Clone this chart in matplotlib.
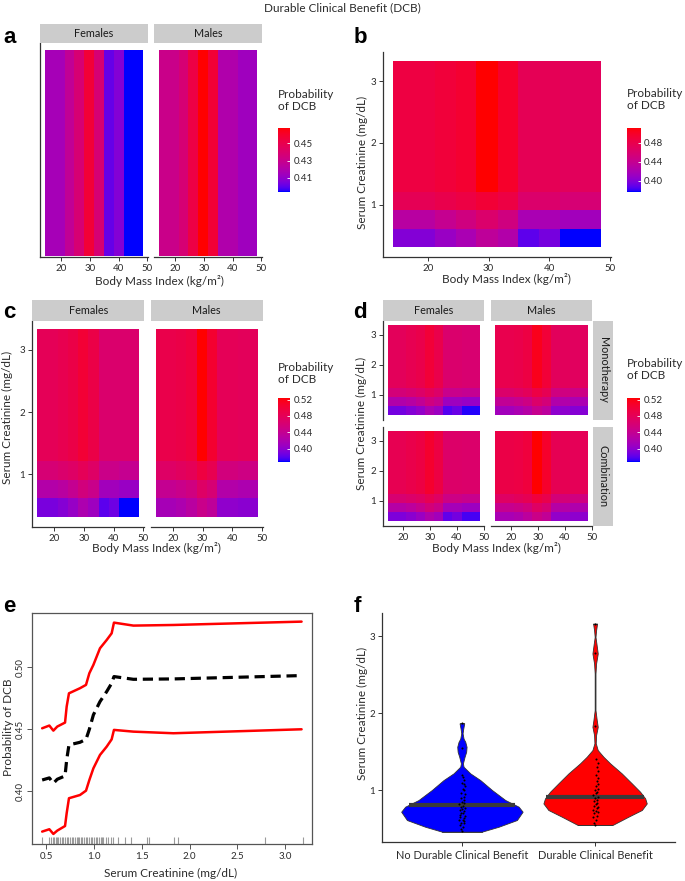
import numpy as np
import matplotlib
matplotlib.use("Agg")
import matplotlib.pyplot as plt
from matplotlib.colors import ListedColormap, Normalize
from matplotlib.cm import ScalarMappable
from matplotlib.ticker import FormatStrFormatter

plt.rcParams['font.family'] = ['Lato', 'DejaVu Sans']

W, H = 685, 881

# ---------------- data ----------------
bmi_edges = [14.3, 17.7, 21.2, 24.6, 28.0, 31.5, 34.9, 38.3, 41.8, 45.2, 48.6]
creat_edges = [0.31, 0.61, 0.91, 1.21, 1.52, 1.82, 2.12, 2.42, 2.72, 3.03, 3.33]
bmi_ticks = [20, 30, 40, 50]
creat_ticks = [1, 2, 3]

# panel a: probability by BMI tile (10 tiles)
a_females = [0.416, 0.416, 0.427, 0.438, 0.457, 0.438, 0.401, 0.407, 0.394, 0.394]
a_males = [0.431, 0.431, 0.438, 0.453, 0.468, 0.457, 0.420, 0.420, 0.414, 0.414]

# panels b-d: distinct creatinine rows (0.31-0.61, 0.61-0.91, 0.91-1.21, >1.21)
b_rows = [[0.400, 0.400, 0.410, 0.420, 0.435, 0.425, 0.388, 0.395, 0.377, 0.377],
          [0.430, 0.430, 0.440, 0.450, 0.462, 0.450, 0.420, 0.420, 0.415, 0.415],
          [0.475, 0.475, 0.480, 0.485, 0.492, 0.485, 0.462, 0.462, 0.457, 0.457],
          [0.486, 0.486, 0.490, 0.495, 0.512, 0.498, 0.475, 0.475, 0.471, 0.471]]
c_females = [[0.390, 0.390, 0.396, 0.405, 0.420, 0.410, 0.380, 0.386, 0.368, 0.368],
             [0.425, 0.425, 0.430, 0.440, 0.455, 0.445, 0.412, 0.412, 0.406, 0.406],
             [0.460, 0.460, 0.465, 0.470, 0.480, 0.470, 0.446, 0.446, 0.441, 0.441],
             [0.480, 0.480, 0.485, 0.490, 0.502, 0.490, 0.466, 0.466, 0.465, 0.465]]
c_males = [[0.415, 0.415, 0.420, 0.430, 0.445, 0.435, 0.401, 0.401, 0.398, 0.398],
           [0.440, 0.440, 0.445, 0.452, 0.470, 0.460, 0.425, 0.425, 0.420, 0.420],
           [0.470, 0.470, 0.475, 0.480, 0.495, 0.485, 0.455, 0.455, 0.450, 0.450],
           [0.488, 0.488, 0.490, 0.495, 0.524, 0.505, 0.480, 0.480, 0.478, 0.478]]
d_mono_females = [[0.388, 0.388, 0.395, 0.403, 0.418, 0.408, 0.378, 0.384, 0.370, 0.370],
                  [0.423, 0.423, 0.428, 0.438, 0.452, 0.442, 0.410, 0.410, 0.405, 0.405],
                  [0.457, 0.457, 0.462, 0.468, 0.478, 0.468, 0.444, 0.444, 0.440, 0.440],
                  [0.478, 0.478, 0.483, 0.488, 0.500, 0.488, 0.465, 0.465, 0.463, 0.463]]
d_mono_males = [[0.412, 0.412, 0.418, 0.427, 0.442, 0.432, 0.400, 0.400, 0.396, 0.396],
                [0.437, 0.437, 0.442, 0.450, 0.467, 0.457, 0.423, 0.423, 0.418, 0.418],
                [0.467, 0.467, 0.472, 0.478, 0.492, 0.482, 0.452, 0.452, 0.448, 0.448],
                [0.486, 0.486, 0.488, 0.493, 0.515, 0.500, 0.477, 0.477, 0.475, 0.475]]
d_comb_females = [[0.392, 0.392, 0.398, 0.407, 0.422, 0.412, 0.382, 0.388, 0.375, 0.375],
                  [0.427, 0.427, 0.432, 0.442, 0.457, 0.447, 0.414, 0.414, 0.408, 0.408],
                  [0.462, 0.462, 0.467, 0.472, 0.483, 0.472, 0.448, 0.448, 0.443, 0.443],
                  [0.483, 0.483, 0.488, 0.493, 0.506, 0.493, 0.468, 0.468, 0.467, 0.467]]
d_comb_males = [[0.417, 0.417, 0.422, 0.432, 0.447, 0.437, 0.403, 0.403, 0.400, 0.400],
                [0.442, 0.442, 0.447, 0.455, 0.472, 0.462, 0.427, 0.427, 0.422, 0.422],
                [0.472, 0.472, 0.477, 0.482, 0.497, 0.487, 0.457, 0.457, 0.452, 0.452],
                [0.490, 0.490, 0.492, 0.497, 0.524, 0.507, 0.482, 0.482, 0.480, 0.480]]

# panel e: partial dependence on creatinine
e_creat = [0.46, 0.535, 0.577, 0.618, 0.699, 0.716, 0.74, 0.855, 0.918, 0.953, 0.995,
           1.064, 1.134, 1.186, 1.21, 1.413, 1.831, 3.17]
e_fit = [0.4091, 0.4108, 0.4065, 0.4097, 0.4124, 0.4253, 0.4374, 0.4395, 0.4419, 0.4500,
         0.4616, 0.4723, 0.4804, 0.4871, 0.4925, 0.4903, 0.4906, 0.4933]
e_upper = [0.4508, 0.4530, 0.4489, 0.4522, 0.4554, 0.4683, 0.4790, 0.4831, 0.4858, 0.4952,
           0.5019, 0.5153, 0.5220, 0.5274, 0.5360, 0.5336, 0.5341, 0.5368]
e_lower = [0.3675, 0.3694, 0.3656, 0.3683, 0.3720, 0.3823, 0.3944, 0.3970, 0.4005, 0.4091,
           0.4185, 0.4293, 0.4360, 0.4419, 0.4495, 0.4481, 0.4468, 0.4500]
e_rug = [0.46, 0.53, 0.55, 0.57, 0.58, 0.60, 0.62, 0.63, 0.65, 0.67, 0.68, 0.70, 0.72, 0.73,
         0.75, 0.77, 0.78, 0.80, 0.82, 0.83, 0.85, 0.87, 0.88, 0.90, 0.92, 0.93, 0.95, 0.97,
         0.98, 1.00, 1.02, 1.03, 1.05, 1.07, 1.08, 1.10, 1.13, 1.15, 1.18, 1.20, 1.255, 1.325,
         1.388, 1.552, 1.576, 1.837, 1.882, 2.79, 3.18]
e_xticks = [0.5, 1.0, 1.5, 2.0, 2.5, 3.0]
e_yticks = [0.40, 0.45, 0.50]

# panel f: violins (density profile: creatinine level, half-width)
f_groups = ["No Durable Clinical Benefit", "Durable Clinical Benefit"]
ndcb_y = [0.464, 0.528, 0.615, 0.723, 0.788, 0.874, 1.004, 1.133, 1.22, 1.306, 1.35, 1.435,
          1.50, 1.565, 1.63, 1.67, 1.74, 1.80, 1.868]
ndcb_hw = [0.15, 0.276, 0.413, 0.456, 0.426, 0.326, 0.226, 0.138, 0.063, 0.0125, 0.0075, 0.02,
           0.032, 0.035, 0.025, 0.0125, 0.005, 0.01, 0.0175]
dcb_y = [0.55, 0.658, 0.745, 0.83, 0.896, 0.982, 1.09, 1.22, 1.35, 1.435, 1.522, 1.61, 1.716,
         1.824, 1.91, 2.04, 2.3, 2.516, 2.645, 2.775, 2.904, 2.99, 3.076, 3.163]
dcb_hw = [0.13, 0.25, 0.351, 0.388, 0.376, 0.338, 0.276, 0.2, 0.113, 0.063, 0.02, 0.005, 0.0075,
          0.02, 0.0125, 0.003, 0.003, 0.003, 0.0075, 0.02, 0.01, 0.003, 0.0075, 0.015]
ndcb_median = 0.81
dcb_median = 0.91
ndcb_pts = [0.47, 0.50, 0.53, 0.55, 0.57, 0.58, 0.60, 0.61, 0.62, 0.64, 0.65, 0.67, 0.68, 0.70,
            0.71, 0.73, 0.74, 0.76, 0.77, 0.79, 0.80, 0.82, 0.83, 0.85, 0.87, 0.90, 0.92, 0.95,
            0.97, 1.00, 1.02, 1.05, 1.08, 1.10, 1.14, 1.17, 1.20, 1.55, 1.87]
ndcb_jit = [0.00, -0.01, 0.01, -0.015, 0.012, -0.005, 0.018, -0.02, 0.005, 0.015, -0.012, 0.02,
            -0.018, 0.008, -0.008, 0.016, -0.016, 0.004, 0.02, -0.01, 0.01, -0.02, 0.014, 0.0,
            0.018, -0.006, 0.012, 0.02, -0.004, 0.016, 0.008, 0.02, 0.012, 0.004, 0.016, 0.008,
            0.0, 0.0, 0.0]
dcb_pts = [0.55, 0.58, 0.62, 0.65, 0.67, 0.70, 0.72, 0.73, 0.75, 0.77, 0.78, 0.80, 0.82, 0.84,
           0.86, 0.88, 0.90, 0.92, 0.94, 0.96, 0.98, 1.00, 1.02, 1.05, 1.08, 1.12, 1.16, 1.20,
           1.25, 1.30, 1.35, 1.40, 1.83, 2.78, 3.16]
dcb_jit = [0.0, -0.008, 0.01, -0.012, 0.015, -0.005, 0.02, 0.008, -0.015, 0.012, 0.02, -0.01,
           0.005, 0.018, -0.006, 0.012, 0.0, 0.02, -0.012, 0.01, 0.016, -0.004, 0.022, 0.006,
           0.02, 0.012, 0.024, 0.008, 0.02, 0.015, 0.025, 0.01, 0.0, 0.0, 0.0]


# ---------------- colour scale (Lab interpolation blue -> red) ----------------
def srgb_to_lab(c):
    c = np.asarray(c, float)
    lin = np.where(c <= 0.04045, c / 12.92, ((c + 0.055) / 1.055) ** 2.4)
    M = np.array([[0.4124, 0.3576, 0.1805], [0.2126, 0.7152, 0.0722], [0.0193, 0.1192, 0.9505]])
    xyz = M @ lin / np.array([0.95047, 1.0, 1.08883])
    d = 6 / 29
    f = np.where(xyz > d ** 3, np.cbrt(xyz), xyz / (3 * d * d) + 4 / 29)
    return np.array([116 * f[1] - 16, 500 * (f[0] - f[1]), 200 * (f[1] - f[2])])


def lab_to_srgb(lab):
    L, a, b = lab
    fy_ = (L + 16) / 116
    fx_ = fy_ + a / 500
    fz_ = fy_ - b / 200
    d = 6 / 29
    f = np.array([fx_, fy_, fz_])
    xyz = np.where(f > d, f ** 3, 3 * d * d * (f - 4 / 29)) * np.array([0.95047, 1.0, 1.08883])
    Minv = np.linalg.inv(np.array([[0.4124, 0.3576, 0.1805], [0.2126, 0.7152, 0.0722],
                                   [0.0193, 0.1192, 0.9505]]))
    lin = np.clip(Minv @ xyz, 0, 1)
    rgb = np.where(lin <= 0.0031308, 12.92 * lin, 1.055 * lin ** (1 / 2.4) - 0.055)
    return np.clip(rgb, 0, 1)


lab_lo = srgb_to_lab([0, 0, 1])
lab_hi = srgb_to_lab([1, 0, 0])
cmap = ListedColormap([lab_to_srgb(lab_lo + (lab_hi - lab_lo) * t) for t in np.linspace(0, 1, 256)])

fig = plt.figure(figsize=(W / 100, H / 100), dpi=100)

AX_COL = "#333333"
TXT_COL = "#2b2b2b"
LAB_FS = 8.5
TICK_FS = 7.0


def px_axes(x0, y0, x1, y1):
    return fig.add_axes([x0 / W, 1 - y1 / H, (x1 - x0) / W, (y1 - y0) / H])


def fx(x):
    return x / W


def fy(y):
    return 1 - y / H


def classic(ax, left=True, bottom=True):
    for s in ["top", "right"]:
        ax.spines[s].set_visible(False)
    ax.spines["left"].set_visible(left)
    ax.spines["bottom"].set_visible(bottom)
    for s in ["left", "bottom"]:
        ax.spines[s].set_color(AX_COL)
        ax.spines[s].set_linewidth(0.9)
    ax.tick_params(colors=AX_COL, labelcolor=TXT_COL, labelsize=TICK_FS, length=3, width=0.7, pad=2)
    if not left:
        ax.tick_params(axis="y", left=False, labelleft=False)
    if not bottom:
        ax.tick_params(axis="x", bottom=False, labelbottom=False)


def strip(x0, y0, x1, y1, text, rotation=0):
    ax = px_axes(x0, y0, x1, y1)
    ax.set_facecolor("#CCCCCC")
    ax.set_xticks([])
    ax.set_yticks([])
    for s in ax.spines.values():
        s.set_visible(False)
    ax.text(0.5, 0.5, text, ha="center", va="center", rotation=rotation,
            fontsize=7.8, color="#1a1a1a", transform=ax.transAxes)


def expand_rows(rows):
    return np.array(rows[:3] + [rows[3]] * 7)


def heat(ax, rows, norm):
    ax.pcolormesh(bmi_edges, creat_edges, expand_rows(rows), cmap=cmap, norm=norm,
                  shading="flat", edgecolors="face", linewidth=0)
    ax.set_xlim(12.6, 50.2)
    ax.set_ylim(0.15, 3.47)
    ax.set_xticks(bmi_ticks)
    ax.set_yticks(creat_ticks)


def cbar(x0, y0, x1, y1, norm, ticks, title_top):
    cax = px_axes(x0, y0, x1, y1)
    cb = fig.colorbar(ScalarMappable(norm=norm, cmap=cmap), cax=cax, ticks=ticks)
    cb.outline.set_visible(False)
    cax.tick_params(labelsize=7.0, length=2.5, width=0.6, color="white",
                    direction="in", labelcolor=TXT_COL, pad=2.5)
    cax.yaxis.set_major_formatter(FormatStrFormatter("%.2f"))
    fig.text(fx(x0), fy(title_top), "Probability\nof DCB", ha="left", va="top",
             fontsize=8.5, color=TXT_COL, linespacing=1.15)


def letter(x, ybase, s):
    fig.text(fx(x), fy(ybase), s, fontsize=16, fontweight="bold",
             family=["Liberation Sans", "DejaVu Sans"], va="baseline", ha="left")


def label(x, y, s, rotation=0):
    fig.text(fx(x), fy(y), s, ha="center", va="center", rotation=rotation,
             fontsize=LAB_FS, color=TXT_COL)


bmi_label = "Body Mass Index (kg/m²)"
creat_label = "Serum Creatinine (mg/dL)"

fig.text(0.5, fy(8), "Durable Clinical Benefit (DCB)", ha="center", va="center",
         fontsize=8.5, color=TXT_COL)

# ---------------- panel a ----------------
norm_a = Normalize(0.394, 0.468)
for (x0, x1, vals, name) in [(40, 148, a_females, "Females"), (154, 262, a_males, "Males")]:
    ax = px_axes(x0, 43, x1, 257)
    ax.pcolormesh(bmi_edges, [0, 1], np.array([vals]), cmap=cmap, norm=norm_a,
                  shading="flat", edgecolors="face", linewidth=0)
    ax.set_xlim(12.6, 50.2)
    ax.set_ylim(-0.005, 1.034)
    ax.set_xticks(bmi_ticks)
    ax.set_yticks([])
    classic(ax, left=(name == "Females"))
    ax.tick_params(axis="y", left=False)
    strip(x0, 24, x1, 43, name)
label(159, 281, bmi_label)
cbar(277.7, 128, 290, 191.7, norm_a, [0.41, 0.43, 0.45], 89)
letter(3, 43, "a")

# ---------------- panel b ----------------
norm_b = Normalize(0.377, 0.512)
ax = px_axes(383, 52, 611, 257)
heat(ax, b_rows, norm_b)
classic(ax)
label(506, 279, bmi_label)
label(362, 162, creat_label, rotation=90)
cbar(627, 127.7, 640.7, 191.7, norm_b, [0.40, 0.44, 0.48], 88)
letter(354, 43, "b")

# ---------------- panel c ----------------
norm_cd = Normalize(0.368, 0.524)
for (x0, x1, rows, name) in [(32.3, 144, c_females, "Females"), (150.7, 262.7, c_males, "Males")]:
    ax = px_axes(x0, 320.7, x1, 527)
    heat(ax, rows, norm_cd)
    classic(ax, left=(name == "Females"))
    strip(x0, 300, x1, 320.7, name)
label(156, 548, bmi_label)
label(7, 417, creat_label, rotation=90)
cbar(277.7, 398, 290, 461.7, norm_cd, [0.40, 0.44, 0.48, 0.52], 362)
letter(3, 318, "c")

# ---------------- panel d ----------------
d_layout = [(383.3, 484.3, 320.7, 420, d_mono_females, True, False),
            (490.7, 592.3, 320.7, 420, d_mono_males, False, False),
            (383.3, 484.3, 426.7, 526, d_comb_females, True, True),
            (490.7, 592.3, 426.7, 526, d_comb_males, False, True)]
for (x0, x1, y0, y1, rows, left, bottom) in d_layout:
    ax = px_axes(x0, y0, x1, y1)
    heat(ax, rows, norm_cd)
    classic(ax, left=left, bottom=bottom)
strip(383.3, 300, 484.3, 320.7, "Females")
strip(490.7, 300, 592.3, 320.7, "Males")
strip(593.3, 320.7, 613.3, 420, "Monotherapy", rotation=-90)
strip(593.3, 426.7, 613.3, 526, "Combination", rotation=-90)
label(361, 423, creat_label, rotation=90)
label(496, 548, bmi_label)
cbar(627, 398, 640, 461.7, norm_cd, [0.40, 0.44, 0.48, 0.52], 358)
letter(353, 318, "d")

# ---------------- panel e ----------------
ax = px_axes(32.3, 612.7, 312.3, 844)
ax.plot(e_creat, e_upper, color="#ff0000", lw=1.8, solid_capstyle="round")
ax.plot(e_creat, e_lower, color="#ff0000", lw=1.8, solid_capstyle="round")
ax.plot(e_creat, e_fit, color="black", lw=2.3, dashes=(3.2, 1.8))
ax.vlines(e_rug, 0, 0.03, transform=ax.get_xaxis_transform(), color="#9a9a9a", lw=0.8)
ax.set_xlim(0.357, 3.282)
ax.set_ylim(0.3575, 0.544)
ax.set_xticks(e_xticks)
ax.set_xticklabels(["%.1f" % v for v in e_xticks])
ax.set_yticks(e_yticks)
ax.set_yticklabels(["%.2f" % v for v in e_yticks], rotation=90, va="center")
for s in ax.spines.values():
    s.set_color("#555555")
    s.set_linewidth(0.9)
ax.tick_params(colors="#555555", labelcolor=TXT_COL, labelsize=TICK_FS, length=3.5, width=0.7, pad=2)
label(171, 873, creat_label)
label(9, 727, "Probability of DCB", rotation=90)
letter(3, 612, "e")

# ---------------- panel f ----------------
ax = px_axes(382, 613, 675, 842)
for (pos, yy, hw, med, pts, jit, col) in [(1, ndcb_y, ndcb_hw, ndcb_median, ndcb_pts, ndcb_jit, "#0000ff"),
                                          (2, dcb_y, dcb_hw, dcb_median, dcb_pts, dcb_jit, "#ff0000")]:
    yy = np.array(yy)
    hw = np.array(hw)
    ax.fill_betweenx(yy, pos - hw, pos + hw, facecolor=col, edgecolor="#333333", lw=0.6)
    ax.plot([pos - hw[0], pos + hw[0]], [yy[0], yy[0]], color="#333333", lw=0.6)
    ax.plot([pos - hw[-1], pos + hw[-1]], [yy[-1], yy[-1]], color="#333333", lw=0.6)
    wm = np.interp(med, yy, hw)
    ax.plot([pos - wm, pos + wm], [med, med], color="#3a3a3a", lw=3.0, solid_capstyle="butt")
    ax.scatter(pos + np.array(jit), pts, s=2.2, color="black", zorder=3, linewidths=0)
ax.set_xlim(0.4, 2.6)
ax.set_ylim(0.33, 3.30)
ax.set_xticks([1, 2])
ax.set_xticklabels(f_groups)
ax.set_yticks(creat_ticks)
classic(ax)
ax.tick_params(axis="x", labelsize=7.9, pad=3)
label(362, 713, creat_label, rotation=90)
letter(354, 612, "f")

fig.savefig("out.png", dpi=100)
